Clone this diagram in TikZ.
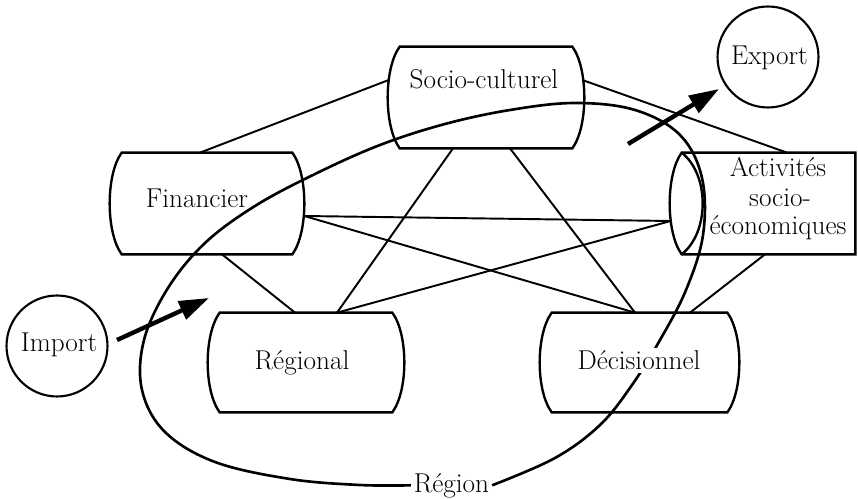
\documentclass[tikz,border=0pt]{standalone}
\usepackage{fontspec}
\usetikzlibrary{calc,arrows.meta}
\newcommand\barrel[1]{%
  \draw[boxline] (#1.north west) -- (#1.north east)
    .. controls ($(#1.north east)+(16,22)$) and ($(#1.south east)+(16,-22)$) .. (#1.south east)
    -- (#1.south west)
    .. controls ($(#1.south west)+(-16,-22)$) and ($(#1.north west)+(-16,22)$) .. cycle;}
\begin{document}
\begin{tikzpicture}[x=0.02cm,y=-0.02cm,
  boxn/.style={rectangle,draw=none,inner sep=0pt},
  boxline/.style={line width=1.35pt,line join=miter},
  conn/.style={line width=1.1pt},
  circ/.style={circle,draw,line width=1.2pt,inner sep=0pt,minimum size=2.02cm},
  lbl/.style={anchor=base,inner sep=1.5pt,font=\fontsize{15.5}{17}\selectfont},
  bigarrow/.style={line width=2.5pt,-{Triangle[length=17pt,width=11pt]}},
  region/.style={line width=1.5pt}]
\useasboundingbox (0,0) rectangle (858,499);

% box frames
\node[boxn,minimum width=3.4cm,minimum height=2.02cm] (fin) at (207,203.5) {};
\node[boxn,minimum width=3.44cm,minimum height=2.02cm] (soc) at (486,97.5) {};
\node[boxn,minimum width=3.44cm,minimum height=1.98cm] (reg) at (306,362.5) {};
\node[boxn,minimum width=3.5cm,minimum height=1.98cm] (dec) at (639.5,362.5) {};
\node[boxn,minimum width=3.46cm,minimum height=2.02cm] (act) at (768.5,203.5) {};

\barrel{fin}
\barrel{soc}
\barrel{reg}
\barrel{dec}
\draw[boxline] (act.north west) -- (act.north east) -- (act.south east) -- (act.south west)
  .. controls ($(act.south west)+(-16,-22)$) and ($(act.north west)+(-16,22)$) .. cycle;
\draw[boxline] (act.north west)
  .. controls ($(act.north west)+(28,22)$) and ($(act.south west)+(28,-22)$) .. (act.south west);

% attachment points
\coordinate (s1) at ($(soc.west)+(-11,-17.5)$);
\coordinate (s2) at ($(soc.east)+(10,-17.5)$);
\coordinate (s3) at ($(soc.south)+(-33,0)$);
\coordinate (s4) at ($(soc.south)+(24,0)$);
\coordinate (f1) at ($(fin.north)+(-7,0)$);
\coordinate (f2) at ($(fin.east)+(12,12.5)$);
\coordinate (f3) at ($(fin.south)+(15,0)$);
\coordinate (r1) at ($(reg.north)+(31,0)$);
\coordinate (r2) at ($(reg.north)+(-11,0)$);
\coordinate (d1) at ($(dec.north)+(-4.5,0)$);
\coordinate (d2) at ($(dec.north)+(50.5,0)$);
\coordinate (a1) at ($(act.north)+(18.5,0)$);
\coordinate (a2) at ($(act.west)+(-11,17.5)$);
\coordinate (a3) at ($(act.south)+(-3.5,0)$);

% connectors
\draw[conn] (s1) -- (f1);
\draw[conn] (s2) -- (a1);
\draw[conn] (s3) -- (r1);
\draw[conn] (s4) -- (d1);
\draw[conn] (f2) -- (a2);
\draw[conn] (f2) -- (d1);
\draw[conn] (f3) -- (r2);
\draw[conn] (r1) -- (a2);
\draw[conn] (a3) -- (d2);

% import / export
\node[circ] (imp) at (57,346) {};
\node[circ] (exp) at (768,57) {};
\coordinate (impT) at (117,340);
\coordinate (impH) at (209,298);
\coordinate (expT) at (628,144);
\coordinate (expH) at (719,89);
\draw[bigarrow] (impT) -- (impH);
\draw[bigarrow] (expT) -- (expH);

% region curve
\node[lbl] (lab) at (451.5,492) {Région};
\draw[region] plot[smooth,tension=0.6] coordinates {
  (lab.east) (555,458) (600,425) (632,385) (660,340) (686,290) (703,235)
  (702,178) (680,135) (635,110) (575,103) (510,110) (445,124) (380,145)
  (315,174) (255,206) (205,243) (168,288) (144,340) (142,390) (165,432)
  (215,462) (290,479) (360,485) (lab.west)};

% texts
\node[lbl] (tfin) at (197,208) {Financier};
\node[lbl] (tsoc) at (484,89) {Socio-culturel};
\node[lbl] (treg) at (302,370) {Régional};
\node[lbl,fill=white] (tdec) at (639,370) {Décisionnel};
\node[lbl] (tact1) at (778,177) {Activités};
\node[lbl] (tact2) at (780,207) {socio-};
\node[lbl] (tact3) at (778,235) {économiques};
\node[lbl] (timp) at (59,352) {Import};
\node[lbl] (texp) at (769.5,65) {Export};
\end{tikzpicture}
\end{document}
